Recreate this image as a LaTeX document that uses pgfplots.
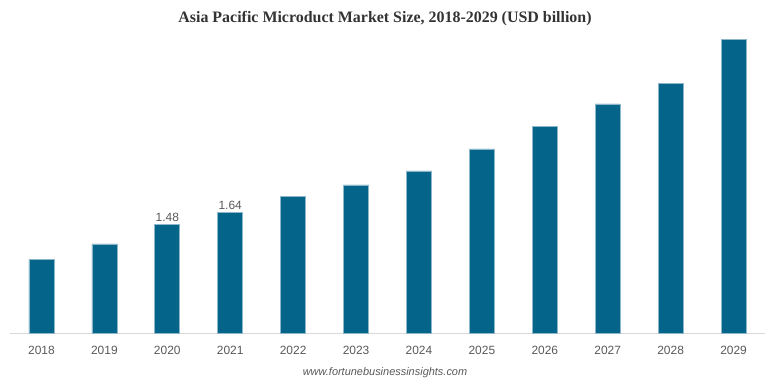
\documentclass[border=0pt]{standalone}
\usepackage{pgfplots}
\pgfplotsset{compat=1.18}
\usepackage{fontspec}
\setmainfont{Liberation Sans}
\newfontfamily\titlefont{Liberation Serif}
\definecolor{barc}{HTML}{05648A}
\definecolor{edgec}{HTML}{8CB6C9}
\definecolor{lblc}{HTML}{595959}
\begin{document}
\begin{tikzpicture}[x=1bp,y=1bp]
\useasboundingbox (0,0) rectangle (770,385);
\begin{axis}[
  at={(10bp,52bp)}, anchor=south west,
  scale only axis, width=755bp, height=304bp,
  xmin=-0.5, xmax=11.5, ymin=0, ymax=4.128,
  axis y line=none, axis x line*=bottom,
  axis line style={draw=black!15, line width=1bp, -},
  xtick={0,...,11},
  xticklabels={2018,2019,2020,2021,2022,2023,2024,2025,2026,2027,2028,2029},
  major tick length=0pt,
  xticklabel style={font=\fontsize{12}{14}\selectfont, text=lblc, anchor=base, yshift=-21bp},
  ybar, bar width=25bp, bar shift=0pt,
  clip=false,
  /pgf/number format/assume math mode=true,
]
\addplot[fill=barc, draw=edgec, line width=0.6bp] coordinates {
(0,1.00) (1,1.21) (2,1.48) (3,1.64) (4,1.85) (5,2.01)
(6,2.20) (7,2.50) (8,2.80) (9,3.11) (10,3.39) (11,3.99)};
\addplot[fill=barc, draw=edgec, line width=0.6bp,
  nodes near coords,
  nodes near coords style={font=\fontsize{12}{14}\selectfont, text=lblc, inner sep=2bp,
    /pgf/number format/.cd, fixed, fixed zerofill, precision=2, assume math mode=true}]
  coordinates {(2,1.48) (3,1.64)};
\end{axis}
\node[font=\titlefont\bfseries\fontsize{16}{18}\selectfont, text=black!80] at (385,366) {Asia Pacific Microduct Market Size, 2018-2029 (USD billion)};
\node[font=\itshape\fontsize{11}{13}\selectfont, text=lblc] at (385,12) {www.fortunebusinessinsights.com};
\end{tikzpicture}
\end{document}
